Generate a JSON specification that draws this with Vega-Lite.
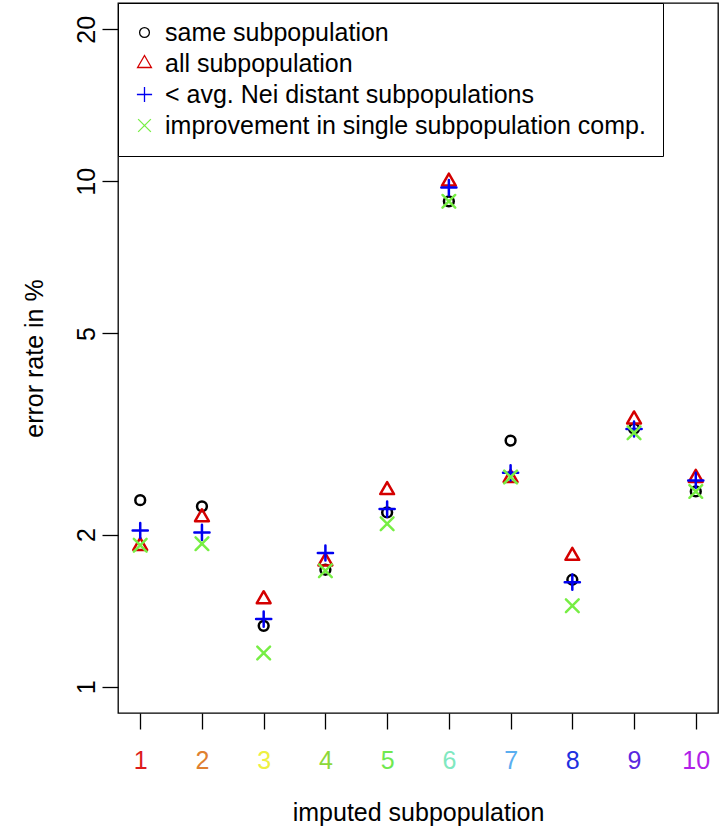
{
  "$schema": "https://vega.github.io/schema/vega-lite/v6.json",
  "width": 600,
  "height": 710,
  "autosize": {"type": "none"},
  "padding": {"left": 118, "top": 3, "right": 3, "bottom": 125},
  "background": "white",
  "config": {
    "font": "Liberation Sans",
    "view": {"stroke": "black", "strokeWidth": 1.3},
    "axis": {"grid": false, "domain": false, "tickColor": "black", "tickWidth": 1.3, "tickSize": 16,
             "labelFont": "Liberation Sans", "labelFontSize": 25, "labelColor": "black",
             "titleFont": "Liberation Sans", "titleFontSize": 25, "titleFontWeight": "normal", "titleColor": "black"}
  },
  "data": {"values": [
    {"sub": 1, "series": "same subpopulation", "value": 2.34},
    {"sub": 2, "series": "same subpopulation", "value": 2.275},
    {"sub": 3, "series": "same subpopulation", "value": 1.32},
    {"sub": 4, "series": "same subpopulation", "value": 1.704},
    {"sub": 5, "series": "same subpopulation", "value": 2.213},
    {"sub": 6, "series": "same subpopulation", "value": 9.13},
    {"sub": 7, "series": "same subpopulation", "value": 3.07},
    {"sub": 8, "series": "same subpopulation", "value": 1.628},
    {"sub": 9, "series": "same subpopulation", "value": 3.24},
    {"sub": 10, "series": "same subpopulation", "value": 2.435},
    {"sub": 1, "series": "all subpopulation", "value": 1.9},
    {"sub": 2, "series": "all subpopulation", "value": 2.165},
    {"sub": 3, "series": "all subpopulation", "value": 1.49},
    {"sub": 4, "series": "all subpopulation", "value": 1.77},
    {"sub": 5, "series": "all subpopulation", "value": 2.45},
    {"sub": 6, "series": "all subpopulation", "value": 9.99},
    {"sub": 7, "series": "all subpopulation", "value": 2.59},
    {"sub": 8, "series": "all subpopulation", "value": 1.816},
    {"sub": 9, "series": "all subpopulation", "value": 3.38},
    {"sub": 10, "series": "all subpopulation", "value": 2.59},
    {"sub": 1, "series": "< avg. Nei distant subpopulations", "value": 2.038},
    {"sub": 2, "series": "< avg. Nei distant subpopulations", "value": 2.02},
    {"sub": 3, "series": "< avg. Nei distant subpopulations", "value": 1.361},
    {"sub": 4, "series": "< avg. Nei distant subpopulations", "value": 1.839},
    {"sub": 5, "series": "< avg. Nei distant subpopulations", "value": 2.247},
    {"sub": 6, "series": "< avg. Nei distant subpopulations", "value": 9.72},
    {"sub": 7, "series": "< avg. Nei distant subpopulations", "value": 2.65},
    {"sub": 8, "series": "< avg. Nei distant subpopulations", "value": 1.61},
    {"sub": 9, "series": "< avg. Nei distant subpopulations", "value": 3.236},
    {"sub": 10, "series": "< avg. Nei distant subpopulations", "value": 2.56},
    {"sub": 1, "series": "improvement in single subpopulation comp.", "value": 1.905},
    {"sub": 2, "series": "improvement in single subpopulation comp.", "value": 1.919},
    {"sub": 3, "series": "improvement in single subpopulation comp.", "value": 1.166},
    {"sub": 4, "series": "improvement in single subpopulation comp.", "value": 1.696},
    {"sub": 5, "series": "improvement in single subpopulation comp.", "value": 2.101},
    {"sub": 6, "series": "improvement in single subpopulation comp.", "value": 9.13},
    {"sub": 7, "series": "improvement in single subpopulation comp.", "value": 2.6},
    {"sub": 8, "series": "improvement in single subpopulation comp.", "value": 1.446},
    {"sub": 9, "series": "improvement in single subpopulation comp.", "value": 3.18},
    {"sub": 10, "series": "improvement in single subpopulation comp.", "value": 2.435}
  ]},
  "mark": {"type": "point", "filled": false, "strokeWidth": 2.5, "strokeCap": "round", "strokeJoin": "round", "size": 96, "opacity": 1},
  "encoding": {
    "x": {"field": "sub", "type": "quantitative",
          "scale": {"domain": [0.64, 10.36], "nice": false, "zero": false},
          "axis": {"values": [1,2,3,4,5,6,7,8,9,10], "title": "imputed subpopulation",
                   "labelPadding": 31, "labelBaseline": "middle",
                   "labelColor": {"expr": "['#DD1C1C','#E08030','#EEF040','#8CD838','#70E850','#80E8C0','#5AAEF0','#2030E0','#5A28E0','#B020E8'][datum.value-1]"},
                   "titleY": 99, "titleBaseline": "middle", "titleAnchor": "middle"}},
    "y": {"field": "value", "type": "quantitative",
          "scale": {"type": "log", "domain": [0.8872, 22.54], "nice": false},
          "axis": {"values": [1, 2, 5, 10, 20], "title": "error rate in %", "labelAngle": -90,
                   "labelAlign": "center", "labelBaseline": "middle", "labelPadding": 16,
                   "titleX": -84, "titleBaseline": "middle", "titleAngle": -90}},
    "color": {"field": "series", "type": "nominal",
              "scale": {"domain": ["same subpopulation", "all subpopulation", "< avg. Nei distant subpopulations", "improvement in single subpopulation comp."],
                        "range": ["#000000", "#D40000", "#0000F0", "#77EE44"]},
              "legend": {"orient": "none", "legendX": 0, "legendY": 0, "title": null,
                         "fillColor": "white", "strokeColor": "black", "padding": 17,
                         "labelFont": "Liberation Sans", "labelFontSize": 25, "labelColor": "black",
                         "rowPadding": 5, "symbolSize": 96, "symbolStrokeWidth": 1.3, "labelOffset": 8,
                         "symbolOffset": -3, "labelLimit": 1000}},
    "shape": {"field": "series", "type": "nominal",
              "scale": {"domain": ["same subpopulation", "all subpopulation", "< avg. Nei distant subpopulations", "improvement in single subpopulation comp."],
                        "range": ["circle", "M0,-1.63L1.41,0.82L-1.41,0.82Z", "M-1.55,0H1.55M0,-1.55V1.55", "M-1.3,-1.3L1.3,1.3M-1.3,1.3L1.3,-1.3"]},
              "legend": {"orient": "none", "legendX": 0, "legendY": 0, "title": null,
                         "fillColor": "white", "strokeColor": "black", "padding": 17,
                         "labelFont": "Liberation Sans", "labelFontSize": 25, "labelColor": "black",
                         "rowPadding": 5, "symbolSize": 96, "symbolStrokeWidth": 1.3, "labelOffset": 8,
                         "symbolOffset": -3, "labelLimit": 1000}}
  }
}
